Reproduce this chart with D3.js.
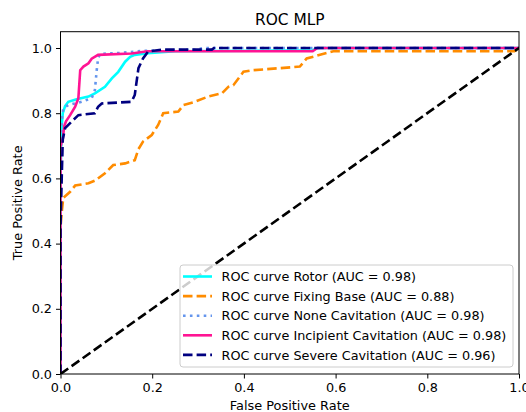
<!DOCTYPE html>
<html>
<head>
<meta charset="utf-8">
<script src="https://cdn.jsdelivr.net/npm/d3@7"></script>
<style>
body { margin: 0; background: #fff; }
text { font-family: "DejaVu Sans", sans-serif; fill: #000; }
</style>
</head>
<body>
<svg id="chart" width="526" height="412"></svg>
<script>
// ROC points, [fpr, tpr]
var rotor = [[0,0],[0,0.6],[0.002,0.75],[0.005,0.80],[0.01,0.822],[0.017,0.835],[0.035,0.843],
  [0.061,0.851],[0.075,0.861],[0.097,0.881],[0.112,0.907],[0.126,0.927],[0.141,0.958],
  [0.152,0.973],[0.162,0.979],[0.19,0.984],[0.25,0.99],[0.55,0.993],[0.56,1],[1,1]];
var fixingBase = [[0,0],[0,0.45],[0.003,0.50],[0.006,0.54],[0.021,0.559],[0.032,0.578],
  [0.061,0.585],[0.075,0.593],[0.097,0.616],[0.115,0.641],[0.141,0.646],[0.162,0.656],
  [0.17,0.69],[0.18,0.713],[0.199,0.733],[0.213,0.764],[0.224,0.80],[0.257,0.805],
  [0.268,0.825],[0.293,0.835],[0.322,0.851],[0.352,0.861],[0.366,0.881],[0.377,0.886],
  [0.399,0.927],[0.42,0.932],[0.45,0.935],[0.522,0.943],[0.537,0.968],[0.566,0.979],
  [0.595,0.99],[0.99,0.99],[1,1]];
var noneCavitation = [[0,0],[0,0.62],[0.003,0.78],[0.006,0.815],[0.017,0.825],[0.046,0.835],
  [0.068,0.846],[0.075,0.871],[0.079,0.932],[0.082,0.968],[0.086,0.982],[0.133,0.985],
  [0.177,0.991],[0.3,0.995],[0.31,1],[1,1]];
var incipient = [[0,0],[0,0.70],[0.005,0.72],[0.008,0.76],[0.012,0.775],[0.021,0.794],
  [0.032,0.82],[0.039,0.846],[0.043,0.932],[0.05,0.943],[0.061,0.953],[0.068,0.967],
  [0.082,0.979],[0.155,0.983],[0.19,0.99],[0.55,0.99],[0.56,1],[1,1]];
var severe = [[0,0],[0,0.45],[0.003,0.62],[0.005,0.72],[0.01,0.754],[0.024,0.774],
  [0.039,0.794],[0.075,0.80],[0.082,0.82],[0.09,0.83],[0.155,0.835],[0.162,0.856],
  [0.17,0.938],[0.18,0.968],[0.191,0.989],[0.22,0.995],[0.33,0.995],[0.335,1],[1,1]];
var chance = [[0,0],[1,1]];

var seriesNames = ["Rotor", "Fixing Base", "None Cavitation", "Incipient Cavitation", "Severe Cavitation"];
var seriesAuc = [0.98, 0.88, 0.98, 0.98, 0.96];
var seriesData = [rotor, fixingBase, noneCavitation, incipient, severe];
var seriesColors = ["#00ffff", "#ff8c00", "#6495ed", "#ff1493", "#000080"];
var seriesDash = [null, "9.5,4.1", "2.6,4.3", null, "9.5,4.1"];
var tickValues = [0, 0.2, 0.4, 0.6, 0.8, 1.0];

var svg = d3.select("#chart");
var plotLeft = 60.5, plotRight = 519, plotTop = 31.7, plotBottom = 374;

var x = d3.scaleLinear().domain([0, 1]).range([plotLeft, plotRight]);
var y = d3.scaleLinear().domain([0, 1.05]).range([plotBottom, plotTop]);

svg.append("defs").append("clipPath")
  .attr("id", "plotclip")
  .append("rect")
  .attr("x", plotLeft).attr("y", plotTop)
  .attr("width", plotRight - plotLeft).attr("height", plotBottom - plotTop);

var line = d3.line()
  .x(function(d) { return x(d[0]); })
  .y(function(d) { return y(d[1]); });

var plot = svg.append("g").attr("clip-path", "url(#plotclip)");

seriesData.forEach(function(s, i) {
  plot.append("path")
    .datum(s)
    .attr("d", line)
    .attr("fill", "none")
    .attr("stroke", seriesColors[i])
    .attr("stroke-width", 2.6)
    .attr("stroke-dasharray", seriesDash[i]);
});

plot.append("path")
  .datum(chance)
  .attr("d", line)
  .attr("fill", "none")
  .attr("stroke", "#000")
  .attr("stroke-width", 2.6)
  .attr("stroke-dasharray", "9.5,4.1");

// axes
var xAxis = d3.axisBottom(x).tickValues(tickValues).tickFormat(d3.format(".1f"))
  .tickSizeInner(4.5).tickSizeOuter(0).tickPadding(4);
var yAxis = d3.axisLeft(y).tickValues(tickValues).tickFormat(d3.format(".1f"))
  .tickSizeInner(4.5).tickSizeOuter(0).tickPadding(4);

var gx = svg.append("g").attr("transform", "translate(0," + plotBottom + ")").call(xAxis);
var gy = svg.append("g").attr("transform", "translate(" + plotLeft + ",0)").call(yAxis);
[gx, gy].forEach(function(g) {
  g.select(".domain").remove();
  g.selectAll("line").attr("stroke", "#000").attr("stroke-width", 1);
  g.selectAll("text").style("font-size", "12.8px").attr("fill", "#000");
});

svg.append("rect")
  .attr("x", plotLeft).attr("y", plotTop)
  .attr("width", plotRight - plotLeft).attr("height", plotBottom - plotTop)
  .attr("fill", "none")
  .attr("stroke", "#000")
  .attr("stroke-width", 1);

// labels
svg.append("text")
  .attr("x", (plotLeft + plotRight) / 2).attr("y", 25)
  .attr("text-anchor", "middle")
  .style("font-size", "15.4px")
  .text("ROC MLP");

svg.append("text")
  .attr("x", (plotLeft + plotRight) / 2).attr("y", 410)
  .attr("text-anchor", "middle")
  .style("font-size", "12.9px")
  .text("False Positive Rate");

svg.append("text")
  .attr("transform", "translate(22," + ((plotTop + plotBottom) / 2) + ") rotate(-90)")
  .attr("text-anchor", "middle")
  .style("font-size", "12.9px")
  .text("True Positive Rate");

// legend
var legend = svg.append("g");
legend.append("rect")
  .attr("x", 180).attr("y", 265)
  .attr("width", 333).attr("height", 102)
  .attr("rx", 3)
  .attr("fill", "#fff").attr("fill-opacity", 0.8)
  .attr("stroke", "#cccccc");

var rows = legend.selectAll(".row")
  .data(seriesNames)
  .enter().append("g")
  .attr("class", "row")
  .attr("transform", function(d, i) { return "translate(0," + (276.5 + i * 19.6) + ")"; });

rows.append("line")
  .attr("x1", 183).attr("x2", 212)
  .attr("stroke", function(d, i) { return seriesColors[i]; })
  .attr("stroke-width", 2.6)
  .attr("stroke-dasharray", function(d, i) { return seriesDash[i]; });

rows.append("text")
  .attr("x", 221.5).attr("y", 4.6)
  .style("font-size", "12.8px")
  .text(function(d, i) { return "ROC curve " + d + " (AUC = " + seriesAuc[i].toFixed(2) + ")"; });
</script>
</body>
</html>
